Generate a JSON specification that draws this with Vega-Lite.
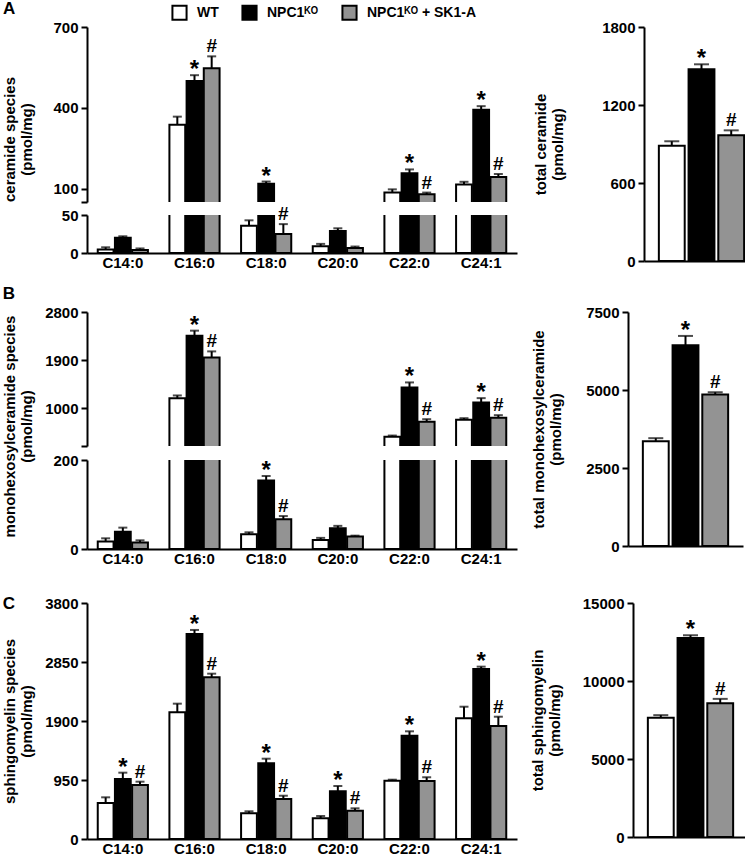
{
  "$schema": "https://vega.github.io/schema/vega-lite/v6.json",
  "padding": {"left": 2, "top": 0, "right": 0, "bottom": 0},
  "background": "white",
  "datasets": {
    "cer": [
      {"cat": "C14:0", "grp": "WT", "v": 4.5, "hi": 7.5, "sig": ""},
      {"cat": "C14:0", "grp": "NPC1ᴷᴼ", "v": 20, "hi": 22, "sig": ""},
      {"cat": "C14:0", "grp": "NPC1ᴷᴼ + SK1-A", "v": 4, "hi": 6, "sig": ""},
      {"cat": "C16:0", "grp": "WT", "v": 337, "hi": 367, "sig": ""},
      {"cat": "C16:0", "grp": "NPC1ᴷᴼ", "v": 499, "hi": 521, "sig": "*"},
      {"cat": "C16:0", "grp": "NPC1ᴷᴼ + SK1-A", "v": 547, "hi": 591, "sig": "#"},
      {"cat": "C18:0", "grp": "WT", "v": 36, "hi": 43, "sig": ""},
      {"cat": "C18:0", "grp": "NPC1ᴷᴼ", "v": 118, "hi": 126, "sig": "*"},
      {"cat": "C18:0", "grp": "NPC1ᴷᴼ + SK1-A", "v": 25, "hi": 38, "sig": "#"},
      {"cat": "C20:0", "grp": "WT", "v": 9, "hi": 12, "sig": ""},
      {"cat": "C20:0", "grp": "NPC1ᴷᴼ", "v": 29, "hi": 32.5, "sig": ""},
      {"cat": "C20:0", "grp": "NPC1ᴷᴼ + SK1-A", "v": 6.5, "hi": 8.5, "sig": ""},
      {"cat": "C22:0", "grp": "WT", "v": 85, "hi": 97, "sig": ""},
      {"cat": "C22:0", "grp": "NPC1ᴷᴼ", "v": 157, "hi": 171, "sig": "*"},
      {"cat": "C22:0", "grp": "NPC1ᴷᴼ + SK1-A", "v": 79, "hi": 85, "sig": "#"},
      {"cat": "C24:1", "grp": "WT", "v": 115, "hi": 125, "sig": ""},
      {"cat": "C24:1", "grp": "NPC1ᴷᴼ", "v": 393, "hi": 406, "sig": "*"},
      {"cat": "C24:1", "grp": "NPC1ᴷᴼ + SK1-A", "v": 143, "hi": 154, "sig": "#"}
    ],
    "cert": [
      {"grp": "WT", "v": 887, "hi": 921, "sig": ""},
      {"grp": "NPC1ᴷᴼ", "v": 1475, "hi": 1513, "sig": "*"},
      {"grp": "NPC1ᴷᴼ + SK1-A", "v": 967, "hi": 1005, "sig": "#"}
    ],
    "hex": [
      {"cat": "C14:0", "grp": "WT", "v": 16.6, "hi": 24, "sig": ""},
      {"cat": "C14:0", "grp": "NPC1ᴷᴼ", "v": 39, "hi": 48, "sig": ""},
      {"cat": "C14:0", "grp": "NPC1ᴷᴼ + SK1-A", "v": 14.4, "hi": 19.5, "sig": ""},
      {"cat": "C16:0", "grp": "WT", "v": 1193, "hi": 1243, "sig": ""},
      {"cat": "C16:0", "grp": "NPC1ᴷᴼ", "v": 2359, "hi": 2452, "sig": "*"},
      {"cat": "C16:0", "grp": "NPC1ᴷᴼ + SK1-A", "v": 1953, "hi": 2065, "sig": "#"},
      {"cat": "C18:0", "grp": "WT", "v": 33, "hi": 37.5, "sig": ""},
      {"cat": "C18:0", "grp": "NPC1ᴷᴼ", "v": 154, "hi": 164, "sig": "*"},
      {"cat": "C18:0", "grp": "NPC1ᴷᴼ + SK1-A", "v": 67, "hi": 74, "sig": "#"},
      {"cat": "C20:0", "grp": "WT", "v": 20, "hi": 25, "sig": ""},
      {"cat": "C20:0", "grp": "NPC1ᴷᴼ", "v": 46.5, "hi": 52, "sig": ""},
      {"cat": "C20:0", "grp": "NPC1ᴷᴼ + SK1-A", "v": 28, "hi": 30, "sig": ""},
      {"cat": "C22:0", "grp": "WT", "v": 471, "hi": 495, "sig": ""},
      {"cat": "C22:0", "grp": "NPC1ᴷᴼ", "v": 1393, "hi": 1486, "sig": "*"},
      {"cat": "C22:0", "grp": "NPC1ᴷᴼ + SK1-A", "v": 751, "hi": 800, "sig": "#"},
      {"cat": "C24:1", "grp": "WT", "v": 789, "hi": 819, "sig": ""},
      {"cat": "C24:1", "grp": "NPC1ᴷᴼ", "v": 1112, "hi": 1193, "sig": "*"},
      {"cat": "C24:1", "grp": "NPC1ᴷᴼ + SK1-A", "v": 826, "hi": 875, "sig": "#"}
    ],
    "hext": [
      {"grp": "WT", "v": 3360, "hi": 3456, "sig": ""},
      {"grp": "NPC1ᴷᴼ", "v": 6432, "hi": 6733, "sig": "*"},
      {"grp": "NPC1ᴷᴼ + SK1-A", "v": 4854, "hi": 4928, "sig": "#"}
    ],
    "sm": [
      {"cat": "C14:0", "grp": "WT", "v": 580, "hi": 671, "sig": ""},
      {"cat": "C14:0", "grp": "NPC1ᴷᴼ", "v": 966, "hi": 1068, "sig": "*"},
      {"cat": "C14:0", "grp": "NPC1ᴷᴼ + SK1-A", "v": 870, "hi": 923, "sig": "#"},
      {"cat": "C16:0", "grp": "WT", "v": 2040, "hi": 2179, "sig": ""},
      {"cat": "C16:0", "grp": "NPC1ᴷᴼ", "v": 3301, "hi": 3366, "sig": "*"},
      {"cat": "C16:0", "grp": "NPC1ᴷᴼ + SK1-A", "v": 2604, "hi": 2662, "sig": "#"},
      {"cat": "C18:0", "grp": "WT", "v": 414, "hi": 446, "sig": ""},
      {"cat": "C18:0", "grp": "NPC1ᴷᴼ", "v": 1219, "hi": 1293, "sig": "*"},
      {"cat": "C18:0", "grp": "NPC1ᴷᴼ + SK1-A", "v": 644, "hi": 697, "sig": "#"},
      {"cat": "C20:0", "grp": "WT", "v": 333, "hi": 370, "sig": ""},
      {"cat": "C20:0", "grp": "NPC1ᴷᴼ", "v": 768, "hi": 853, "sig": "*"},
      {"cat": "C20:0", "grp": "NPC1ᴷᴼ + SK1-A", "v": 456, "hi": 494, "sig": "#"},
      {"cat": "C22:0", "grp": "WT", "v": 939, "hi": 955, "sig": ""},
      {"cat": "C22:0", "grp": "NPC1ᴷᴼ", "v": 1663, "hi": 1734, "sig": "*"},
      {"cat": "C22:0", "grp": "NPC1ᴷᴼ + SK1-A", "v": 934, "hi": 994, "sig": "#"},
      {"cat": "C24:1", "grp": "WT", "v": 1944, "hi": 2130, "sig": ""},
      {"cat": "C24:1", "grp": "NPC1ᴷᴼ", "v": 2738, "hi": 2775, "sig": "*"},
      {"cat": "C24:1", "grp": "NPC1ᴷᴼ + SK1-A", "v": 1820, "hi": 1969, "sig": "#"}
    ],
    "smt": [
      {"grp": "WT", "v": 7638, "hi": 7810, "sig": ""},
      {"grp": "NPC1ᴷᴼ", "v": 12760, "hi": 12932, "sig": "*"},
      {"grp": "NPC1ᴷᴼ + SK1-A", "v": 8579, "hi": 8854, "sig": "#"}
    ]
  },
  "vconcat": [
    {
      "spacing": 15,
      "vconcat": [
        {
          "title": {"text": "A"},
          "spacing": 16,
          "hconcat": [
            {
              "spacing": 13,
              "bounds": "flush",
              "vconcat": [
                {
                  "width": 430, "height": 175,
                  "data": {"name": "cer"},
                  "encoding": {
                    "x": {"field": "cat", "type": "nominal", "sort": null, "scale": {"paddingInner": 0.3, "paddingOuter": 0.15}, "axis": null},
                    "xOffset": {"field": "grp", "type": "nominal", "sort": ["WT", "NPC1ᴷᴼ", "NPC1ᴷᴼ + SK1-A"], "scale": {"paddingInner": 0.08}}
                  },
                  "layer": [
                    {"mark": {"type": "bar", "stroke": "black", "strokeWidth": 2, "clip": true},
                     "encoding": {
                       "y": {"field": "v", "type": "quantitative", "scale": {"domain": [50, 700], "nice": false, "zero": false},
                             "axis": {"values": [50, 100, 400, 700], "labelExpr": "datum.value == 50 ? '' : datum.label", "title": ["ceramide species", "(pmol/mg)"], "titleY": 112, "titlePadding": 18}},
                       "fill": {"field": "grp", "type": "nominal", "sort": ["WT", "NPC1ᴷᴼ", "NPC1ᴷᴼ + SK1-A"], "scale": {"domain": ["WT", "NPC1ᴷᴼ", "NPC1ᴷᴼ + SK1-A"], "range": ["#ffffff", "#000000", "#939393"]}}
                     }},
                    {"mark": {"type": "rule", "strokeWidth": 2, "color": "black", "clip": true}, "encoding": {"y": {"field": "v", "type": "quantitative"}, "y2": {"field": "hi"}}},
                    {"mark": {"type": "tick", "thickness": 2, "size": 9, "color": "black", "clip": true}, "encoding": {"y": {"field": "hi", "type": "quantitative"}}},
                    {"transform": [{"filter": "datum.sig === '*' && datum.hi >= 50"}], "mark": {"type": "text", "fontSize": 24, "fontWeight": "bold", "baseline": "alphabetic", "dy": 2, "color": "black"}, "encoding": {"y": {"field": "hi", "type": "quantitative"}, "text": {"field": "sig"}}},
                    {"transform": [{"filter": "datum.sig === '#' && datum.hi >= 50"}], "mark": {"type": "text", "fontSize": 19, "fontWeight": "bold", "baseline": "alphabetic", "dy": -4, "color": "black"}, "encoding": {"y": {"field": "hi", "type": "quantitative"}, "text": {"field": "sig"}}}
                  ]
                },
                {
                  "width": 430, "height": 38,
                  "data": {"name": "cer"},
                  "encoding": {
                    "x": {"field": "cat", "type": "nominal", "sort": null, "scale": {"paddingInner": 0.3, "paddingOuter": 0.15}, "axis": {"title": null, "ticks": false, "labelAngle": 0, "labelPadding": 2}},
                    "xOffset": {"field": "grp", "type": "nominal", "sort": ["WT", "NPC1ᴷᴼ", "NPC1ᴷᴼ + SK1-A"], "scale": {"paddingInner": 0.08}}
                  },
                  "layer": [
                    {"mark": {"type": "bar", "stroke": "black", "strokeWidth": 2, "clip": true},
                     "encoding": {
                       "y": {"field": "v", "type": "quantitative", "scale": {"domain": [0, 50], "nice": false}, "axis": {"values": [0, 50], "title": null}},
                       "fill": {"field": "grp", "type": "nominal", "sort": ["WT", "NPC1ᴷᴼ", "NPC1ᴷᴼ + SK1-A"], "scale": {"domain": ["WT", "NPC1ᴷᴼ", "NPC1ᴷᴼ + SK1-A"], "range": ["#ffffff", "#000000", "#939393"]}}
                     }},
                    {"mark": {"type": "rule", "strokeWidth": 2, "color": "black", "clip": true}, "encoding": {"y": {"field": "v", "type": "quantitative"}, "y2": {"field": "hi"}}},
                    {"mark": {"type": "tick", "thickness": 2, "size": 9, "color": "black", "clip": true}, "encoding": {"y": {"field": "hi", "type": "quantitative"}}},
                    {"transform": [{"filter": "datum.sig === '*' && datum.hi < 50"}], "mark": {"type": "text", "fontSize": 24, "fontWeight": "bold", "baseline": "alphabetic", "dy": 2, "color": "black"}, "encoding": {"y": {"field": "hi", "type": "quantitative"}, "text": {"field": "sig"}}},
                    {"transform": [{"filter": "datum.sig === '#' && datum.hi < 50"}], "mark": {"type": "text", "fontSize": 19, "fontWeight": "bold", "baseline": "alphabetic", "dy": -4, "color": "black"}, "encoding": {"y": {"field": "hi", "type": "quantitative"}, "text": {"field": "sig"}}}
                  ]
                }
              ]
            },
            {
              "width": 115, "height": 234,
              "data": {"name": "cert"},
              "encoding": {
                "x": {"field": "grp", "type": "nominal", "sort": ["WT", "NPC1ᴷᴼ", "NPC1ᴷᴼ + SK1-A"], "scale": {"paddingInner": 0.13, "paddingOuter": 0.5}, "axis": {"title": null, "labels": false, "ticks": false}}
              },
              "layer": [
                {"mark": {"type": "bar", "stroke": "black", "strokeWidth": 2},
                 "encoding": {
                   "y": {"field": "v", "type": "quantitative", "scale": {"domain": [0, 1800], "nice": false}, "axis": {"values": [0, 600, 1200, 1800], "title": ["total ceramide", "(pmol/mg)"], "titlePadding": 36}},
                   "fill": {"field": "grp", "type": "nominal", "sort": ["WT", "NPC1ᴷᴼ", "NPC1ᴷᴼ + SK1-A"], "scale": {"domain": ["WT", "NPC1ᴷᴼ", "NPC1ᴷᴼ + SK1-A"], "range": ["#ffffff", "#000000", "#939393"]}}
                 }},
                {"mark": {"type": "rule", "strokeWidth": 2, "color": "black"}, "encoding": {"y": {"field": "v", "type": "quantitative"}, "y2": {"field": "hi"}}},
                {"mark": {"type": "tick", "thickness": 2, "size": 15, "color": "black"}, "encoding": {"y": {"field": "hi", "type": "quantitative"}}},
                {"transform": [{"filter": "datum.sig === '*'"}], "mark": {"type": "text", "fontSize": 24, "fontWeight": "bold", "baseline": "alphabetic", "dy": 2, "color": "black"}, "encoding": {"y": {"field": "hi", "type": "quantitative"}, "text": {"field": "sig"}}},
                {"transform": [{"filter": "datum.sig === '#'"}], "mark": {"type": "text", "fontSize": 19, "fontWeight": "bold", "baseline": "alphabetic", "dy": -4, "color": "black"}, "encoding": {"y": {"field": "hi", "type": "quantitative"}, "text": {"field": "sig"}}}
              ]
            }
          ]
        },
        {
          "title": {"text": "B"},
          "spacing": 14,
          "hconcat": [
            {
              "spacing": 14,
              "bounds": "flush",
              "vconcat": [
                {
                  "width": 430, "height": 134,
                  "data": {"name": "hex"},
                  "encoding": {
                    "x": {"field": "cat", "type": "nominal", "sort": null, "scale": {"paddingInner": 0.3, "paddingOuter": 0.15}, "axis": null},
                    "xOffset": {"field": "grp", "type": "nominal", "sort": ["WT", "NPC1ᴷᴼ", "NPC1ᴷᴼ + SK1-A"], "scale": {"paddingInner": 0.08}}
                  },
                  "layer": [
                    {"mark": {"type": "bar", "stroke": "black", "strokeWidth": 2, "clip": true},
                     "encoding": {
                       "y": {"field": "v", "type": "quantitative", "scale": {"domain": [300, 2800], "nice": false, "zero": false},
                             "axis": {"values": [300, 1000, 1900, 2800], "labelExpr": "datum.value == 300 ? '' : datum.label", "title": ["monohexosylceramide species", "(pmol/mg)"], "titleY": 114, "titlePadding": 10}},
                       "fill": {"field": "grp", "type": "nominal", "sort": ["WT", "NPC1ᴷᴼ", "NPC1ᴷᴼ + SK1-A"], "scale": {"domain": ["WT", "NPC1ᴷᴼ", "NPC1ᴷᴼ + SK1-A"], "range": ["#ffffff", "#000000", "#939393"]}}
                     }},
                    {"mark": {"type": "rule", "strokeWidth": 2, "color": "black", "clip": true}, "encoding": {"y": {"field": "v", "type": "quantitative"}, "y2": {"field": "hi"}}},
                    {"mark": {"type": "tick", "thickness": 2, "size": 9, "color": "black", "clip": true}, "encoding": {"y": {"field": "hi", "type": "quantitative"}}},
                    {"transform": [{"filter": "datum.sig === '*' && datum.hi >= 300"}], "mark": {"type": "text", "fontSize": 24, "fontWeight": "bold", "baseline": "alphabetic", "dy": 2, "color": "black"}, "encoding": {"y": {"field": "hi", "type": "quantitative"}, "text": {"field": "sig"}}},
                    {"transform": [{"filter": "datum.sig === '#' && datum.hi >= 300"}], "mark": {"type": "text", "fontSize": 19, "fontWeight": "bold", "baseline": "alphabetic", "dy": -4, "color": "black"}, "encoding": {"y": {"field": "hi", "type": "quantitative"}, "text": {"field": "sig"}}}
                  ]
                },
                {
                  "width": 430, "height": 89,
                  "data": {"name": "hex"},
                  "encoding": {
                    "x": {"field": "cat", "type": "nominal", "sort": null, "scale": {"paddingInner": 0.3, "paddingOuter": 0.15}, "axis": {"title": null, "ticks": false, "labelAngle": 0, "labelPadding": 2}},
                    "xOffset": {"field": "grp", "type": "nominal", "sort": ["WT", "NPC1ᴷᴼ", "NPC1ᴷᴼ + SK1-A"], "scale": {"paddingInner": 0.08}}
                  },
                  "layer": [
                    {"mark": {"type": "bar", "stroke": "black", "strokeWidth": 2, "clip": true},
                     "encoding": {
                       "y": {"field": "v", "type": "quantitative", "scale": {"domain": [0, 200], "nice": false}, "axis": {"values": [0, 200], "title": null}},
                       "fill": {"field": "grp", "type": "nominal", "sort": ["WT", "NPC1ᴷᴼ", "NPC1ᴷᴼ + SK1-A"], "scale": {"domain": ["WT", "NPC1ᴷᴼ", "NPC1ᴷᴼ + SK1-A"], "range": ["#ffffff", "#000000", "#939393"]}}
                     }},
                    {"mark": {"type": "rule", "strokeWidth": 2, "color": "black", "clip": true}, "encoding": {"y": {"field": "v", "type": "quantitative"}, "y2": {"field": "hi"}}},
                    {"mark": {"type": "tick", "thickness": 2, "size": 9, "color": "black", "clip": true}, "encoding": {"y": {"field": "hi", "type": "quantitative"}}},
                    {"transform": [{"filter": "datum.sig === '*' && datum.hi < 300"}], "mark": {"type": "text", "fontSize": 24, "fontWeight": "bold", "baseline": "alphabetic", "dy": 2, "color": "black"}, "encoding": {"y": {"field": "hi", "type": "quantitative"}, "text": {"field": "sig"}}},
                    {"transform": [{"filter": "datum.sig === '#' && datum.hi < 300"}], "mark": {"type": "text", "fontSize": 19, "fontWeight": "bold", "baseline": "alphabetic", "dy": -4, "color": "black"}, "encoding": {"y": {"field": "hi", "type": "quantitative"}, "text": {"field": "sig"}}}
                  ]
                }
              ]
            },
            {
              "width": 115, "height": 234,
              "data": {"name": "hext"},
              "encoding": {
                "x": {"field": "grp", "type": "nominal", "sort": ["WT", "NPC1ᴷᴼ", "NPC1ᴷᴼ + SK1-A"], "scale": {"paddingInner": 0.13, "paddingOuter": 0.5}, "axis": {"title": null, "labels": false, "ticks": false}}
              },
              "layer": [
                {"mark": {"type": "bar", "stroke": "black", "strokeWidth": 2},
                 "encoding": {
                   "y": {"field": "v", "type": "quantitative", "scale": {"domain": [0, 7500], "nice": false}, "axis": {"values": [0, 2500, 5000, 7500], "title": ["total monohexosylceramide", "(pmol/mg)"], "titlePadding": 22}},
                   "fill": {"field": "grp", "type": "nominal", "sort": ["WT", "NPC1ᴷᴼ", "NPC1ᴷᴼ + SK1-A"], "scale": {"domain": ["WT", "NPC1ᴷᴼ", "NPC1ᴷᴼ + SK1-A"], "range": ["#ffffff", "#000000", "#939393"]}}
                 }},
                {"mark": {"type": "rule", "strokeWidth": 2, "color": "black"}, "encoding": {"y": {"field": "v", "type": "quantitative"}, "y2": {"field": "hi"}}},
                {"mark": {"type": "tick", "thickness": 2, "size": 15, "color": "black"}, "encoding": {"y": {"field": "hi", "type": "quantitative"}}},
                {"transform": [{"filter": "datum.sig === '*'"}], "mark": {"type": "text", "fontSize": 24, "fontWeight": "bold", "baseline": "alphabetic", "dy": 2, "color": "black"}, "encoding": {"y": {"field": "hi", "type": "quantitative"}, "text": {"field": "sig"}}},
                {"transform": [{"filter": "datum.sig === '#'"}], "mark": {"type": "text", "fontSize": 19, "fontWeight": "bold", "baseline": "alphabetic", "dy": -4, "color": "black"}, "encoding": {"y": {"field": "hi", "type": "quantitative"}, "text": {"field": "sig"}}}
              ]
            }
          ]
        }
      ]
    },
    {
      "title": {"text": "C", "offset": 16, "dy": 33},
      "spacing": 13,
      "hconcat": [
        {
          "width": 430, "height": 236,
          "data": {"name": "sm"},
          "encoding": {
            "x": {"field": "cat", "type": "nominal", "sort": null, "scale": {"paddingInner": 0.3, "paddingOuter": 0.15}, "axis": {"title": null, "ticks": false, "labelAngle": 0, "labelPadding": 2}},
            "xOffset": {"field": "grp", "type": "nominal", "sort": ["WT", "NPC1ᴷᴼ", "NPC1ᴷᴼ + SK1-A"], "scale": {"paddingInner": 0.08}}
          },
          "layer": [
            {"mark": {"type": "bar", "stroke": "black", "strokeWidth": 2},
             "encoding": {
               "y": {"field": "v", "type": "quantitative", "scale": {"domain": [0, 3800], "nice": false}, "axis": {"values": [0, 950, 1900, 2850, 3800], "title": ["sphingomyelin species", "(pmol/mg)"], "titlePadding": 10}},
               "fill": {"field": "grp", "type": "nominal", "sort": ["WT", "NPC1ᴷᴼ", "NPC1ᴷᴼ + SK1-A"], "scale": {"domain": ["WT", "NPC1ᴷᴼ", "NPC1ᴷᴼ + SK1-A"], "range": ["#ffffff", "#000000", "#939393"]}}
             }},
            {"mark": {"type": "rule", "strokeWidth": 2, "color": "black"}, "encoding": {"y": {"field": "v", "type": "quantitative"}, "y2": {"field": "hi"}}},
            {"mark": {"type": "tick", "thickness": 2, "size": 9, "color": "black"}, "encoding": {"y": {"field": "hi", "type": "quantitative"}}},
            {"transform": [{"filter": "datum.sig === '*'"}], "mark": {"type": "text", "fontSize": 24, "fontWeight": "bold", "baseline": "alphabetic", "dy": 2, "color": "black"}, "encoding": {"y": {"field": "hi", "type": "quantitative"}, "text": {"field": "sig"}}},
            {"transform": [{"filter": "datum.sig === '#'"}], "mark": {"type": "text", "fontSize": 19, "fontWeight": "bold", "baseline": "alphabetic", "dy": -4, "color": "black"}, "encoding": {"y": {"field": "hi", "type": "quantitative"}, "text": {"field": "sig"}}}
          ]
        },
        {
          "width": 115, "height": 234,
          "data": {"name": "smt"},
          "encoding": {
            "x": {"field": "grp", "type": "nominal", "sort": ["WT", "NPC1ᴷᴼ", "NPC1ᴷᴼ + SK1-A"], "scale": {"paddingInner": 0.13, "paddingOuter": 0.5}, "axis": {"title": null, "labels": false, "ticks": false}}
          },
          "layer": [
            {"mark": {"type": "bar", "stroke": "black", "strokeWidth": 2},
             "encoding": {
               "y": {"field": "v", "type": "quantitative", "scale": {"domain": [0, 15000], "nice": false}, "axis": {"values": [0, 5000, 10000, 15000], "title": ["total sphingomyelin", "(pmol/mg)"], "titlePadding": 20}},
               "fill": {"field": "grp", "type": "nominal", "sort": ["WT", "NPC1ᴷᴼ", "NPC1ᴷᴼ + SK1-A"], "scale": {"domain": ["WT", "NPC1ᴷᴼ", "NPC1ᴷᴼ + SK1-A"], "range": ["#ffffff", "#000000", "#939393"]}}
             }},
            {"mark": {"type": "rule", "strokeWidth": 2, "color": "black"}, "encoding": {"y": {"field": "v", "type": "quantitative"}, "y2": {"field": "hi"}}},
            {"mark": {"type": "tick", "thickness": 2, "size": 15, "color": "black"}, "encoding": {"y": {"field": "hi", "type": "quantitative"}}},
            {"transform": [{"filter": "datum.sig === '*'"}], "mark": {"type": "text", "fontSize": 24, "fontWeight": "bold", "baseline": "alphabetic", "dy": 2, "color": "black"}, "encoding": {"y": {"field": "hi", "type": "quantitative"}, "text": {"field": "sig"}}},
            {"transform": [{"filter": "datum.sig === '#'"}], "mark": {"type": "text", "fontSize": 19, "fontWeight": "bold", "baseline": "alphabetic", "dy": -4, "color": "black"}, "encoding": {"y": {"field": "hi", "type": "quantitative"}, "text": {"field": "sig"}}}
          ]
        }
      ]
    }
  ],
  "spacing": 29,
  "config": {
    "font": "Liberation Sans",
    "numberFormat": "d",
    "view": {"stroke": null},
    "text": {"font": "Liberation Sans"},
    "title": {"anchor": "start", "frame": "bounds", "fontSize": 17, "fontWeight": "bold", "color": "black", "offset": 2, "font": "Liberation Sans"},
    "axis": {
      "labelFont": "Liberation Sans", "labelFontWeight": "bold", "labelFontSize": 15, "labelColor": "black",
      "titleFont": "Liberation Sans", "titleFontWeight": "bold", "titleFontSize": 15, "titleColor": "black", "titleLineHeight": 17, "titlePadding": 14,
      "domainColor": "black", "domainWidth": 2, "tickColor": "black", "tickWidth": 2, "tickSize": 6, "grid": false, "labelPadding": 3
    },
    "legend": {
      "orient": "none", "legendX": 84, "legendY": -23, "direction": "horizontal", "title": null,
      "symbolType": "square", "symbolSize": 200, "symbolStrokeColor": "black", "symbolStrokeWidth": 2, "symbolOpacity": 1,
      "labelFont": "Liberation Sans", "labelFontSize": 14, "labelFontWeight": "bold", "labelColor": "black", "columnPadding": 19, "labelOffset": 9
    }
  }
}
